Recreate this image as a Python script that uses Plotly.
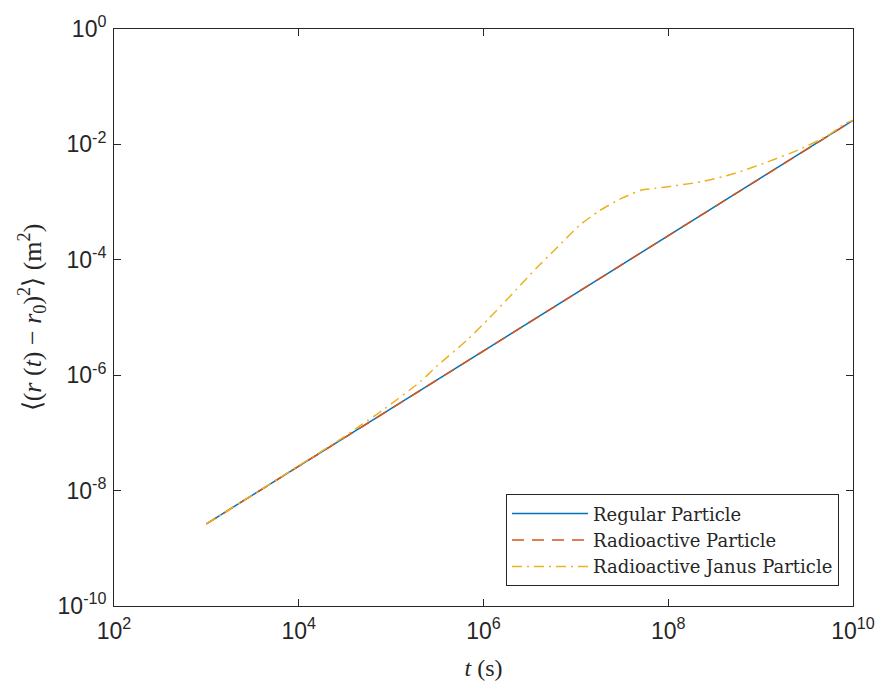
import plotly.graph_objects as go

# ---- data ----
t_regular = [1e3, 1e4, 1e5, 1e6, 1e7, 1e8, 1e9, 1e10]
msd_regular = [2.65e-9, 2.65e-8, 2.65e-7, 2.65e-6, 2.65e-5, 2.65e-4, 2.65e-3, 2.6e-2]

t_radio = [1e3, 1e4, 1e5, 1e6, 1e7, 1e8, 1e9, 1e10]
msd_radio = [2.65e-9, 2.65e-8, 2.65e-7, 2.65e-6, 2.65e-5, 2.65e-4, 2.65e-3, 2.6e-2]

t_janus = [1e3, 3e3, 1e4, 3e4, 4.7e4, 8e4, 2.1e5, 3.1e5, 6.6e5, 1.17e6, 2.26e6,
           3.7e6, 6.07e6, 1.08e7, 1.77e7, 3.15e7, 5.16e7, 7.16e7, 1.0e8, 2.27e8,
           5.16e8, 1.17e9, 2.68e9, 5.18e9, 8.47e9, 1e10]
msd_janus = [2.65e-9, 8.0e-9, 2.7e-8, 8.3e-8, 1.36e-7, 2.44e-7, 7.87e-7, 1.42e-6,
             4.03e-6, 1.0e-5, 3.04e-5, 7.08e-5, 1.55e-4, 3.87e-4, 6.97e-4, 1.17e-3,
             1.62e-3, 1.73e-3, 1.85e-3, 2.25e-3, 3.12e-3, 4.92e-3, 8.28e-3, 1.39e-2,
             2.36e-2, 2.6e-2]

x_tick_exp = [2, 4, 6, 8, 10]
y_tick_exp = [-10, -8, -6, -4, -2, 0]

names = ["Regular Particle", "Radioactive Particle", "Radioactive Janus Particle"]

AX = "#262626"
SANS = "Liberation Sans"
SERIF = "Liberation Serif"
LEG = "DejaVu Serif"


def tick_label(e):
    return "10<sup>%d</sup>" % e


fig = go.Figure()
fig.add_trace(go.Scatter(x=t_regular, y=msd_regular, mode="lines", name=names[0],
                         line=dict(color="#0072BD", width=1.5)))
fig.add_trace(go.Scatter(x=t_radio, y=msd_radio, mode="lines", name=names[1],
                         line=dict(color="#D95319", width=1.5, dash="12px,8px")))
fig.add_trace(go.Scatter(x=t_janus, y=msd_janus, mode="lines", name=names[2],
                         line=dict(color="#EDB120", width=1.5, dash="10px,5px,2px,5px",
                                   shape="spline", smoothing=0.6)))

fig.update_layout(
    width=887, height=688,
    margin=dict(l=114, r=28, t=22, b=77),
    paper_bgcolor="white", plot_bgcolor="white",
    font=dict(family=SANS, size=23, color=AX),
    showlegend=True,
    legend=dict(x=0.981, xanchor="right", y=0.034, yanchor="bottom",
                bordercolor=AX, borderwidth=1, bgcolor="white",
                font=dict(family=LEG, size=18, color=AX),
                itemwidth=76, tracegroupgap=0),
)

fig.update_xaxes(
    type="log", range=[2, 10],
    tickmode="array", tickvals=[10 ** e for e in x_tick_exp],
    ticktext=[tick_label(e) for e in x_tick_exp],
    ticks="inside", ticklen=7, tickwidth=1, tickcolor=AX,
    showline=True, linecolor=AX, linewidth=1, mirror="ticks",
    showgrid=False, zeroline=False,
    tickfont=dict(family=SANS, size=23, color=AX),
    ticklabelstandoff=4,
    title=dict(text="<i>t</i> (s)", font=dict(family=SERIF, size=24, color=AX), standoff=16),
)
fig.update_yaxes(
    type="log", range=[-10, 0],
    tickmode="array", tickvals=[10 ** e for e in y_tick_exp],
    ticktext=[tick_label(e) for e in y_tick_exp],
    ticks="inside", ticklen=7, tickwidth=1, tickcolor=AX,
    showline=True, linecolor=AX, linewidth=1, mirror="ticks",
    showgrid=False, zeroline=False,
    tickfont=dict(family=SANS, size=23, color=AX),
    ticklabelstandoff=2,
    title=dict(text="⟨(<i>r</i> (<i>t</i>) − <i>r</i><sub>0</sub>)<sup>2</sup>⟩ (m<sup>2</sup>)",
               font=dict(family=SERIF, size=26, color=AX), standoff=8),
)

fig.write_html("out.html")
